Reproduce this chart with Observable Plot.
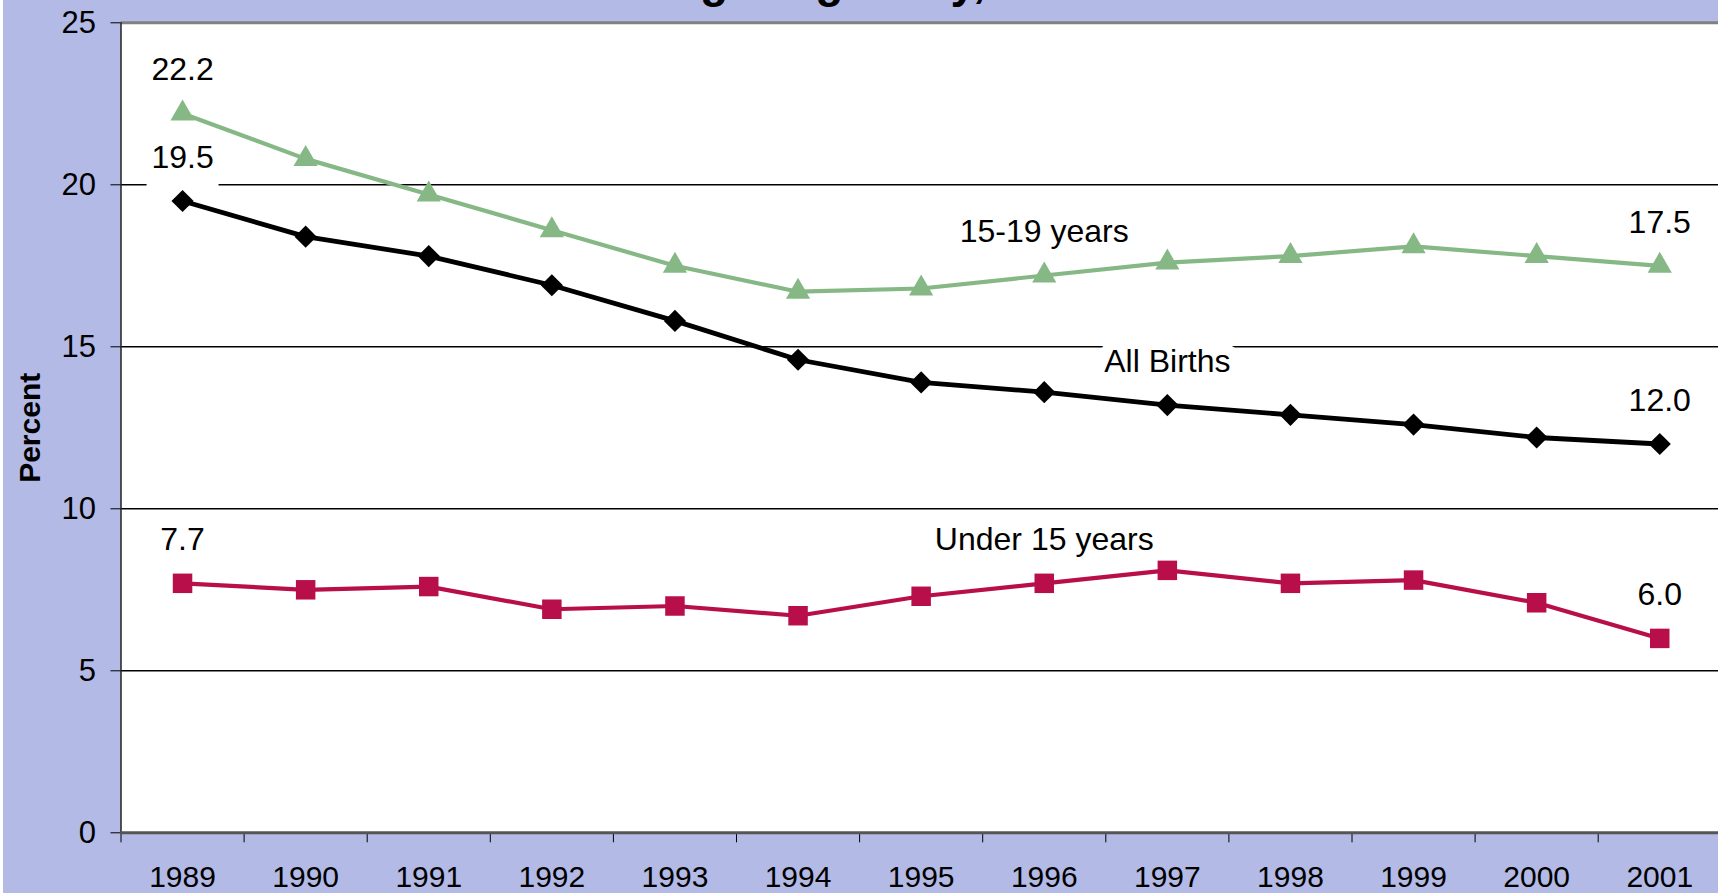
<!DOCTYPE html>
<html>
<head>
<meta charset="utf-8">
<script src="https://cdn.jsdelivr.net/npm/d3@7"></script>
<script src="https://cdn.jsdelivr.net/npm/@observablehq/plot@0.6"></script>
<style>
html, body { margin: 0; padding: 0; background: #fff; }
#chart {
  position: relative; width: 1718px; height: 893px; overflow: hidden;
  background: linear-gradient(to right, #fff 0, #fff 3px, #B3BAE6 3px);
  font-family: "Liberation Sans", Arial, sans-serif;
}
#title {
  position: absolute; left: 580px; top: -42px;
  font-weight: bold; font-size: 46px; line-height: 46px; color: #000; white-space: nowrap;
}
#chart svg { position: absolute; left: 0; top: 0; }
</style>
</head>
<body>
<div id="chart"><div id="title">During Pregnancy, 1989-2001</div></div>
<script>
// ---- data ----
const years = [1989, 1990, 1991, 1992, 1993, 1994, 1995, 1996, 1997, 1998, 1999, 2000, 2001];
const allBirths = [19.5, 18.4, 17.8, 16.9, 15.8, 14.6, 13.9, 13.6, 13.2, 12.9, 12.6, 12.2, 12.0];
const age15to19 = [22.2, 20.8, 19.7, 18.6, 17.5, 16.7, 16.8, 17.2, 17.6, 17.8, 18.1, 17.8, 17.5];
const under15 = [7.7, 7.5, 7.6, 6.9, 7.0, 6.7, 7.3, 7.7, 8.1, 7.7, 7.8, 7.1, 6.0];
const seriesNames = ["All Births", "15-19 years", "Under 15 years"];
const yTicks = [0, 5, 10, 15, 20, 25];
const yAxisLabel = "Percent";

// ---- build table ----
const seriesValues = [allBirths, age15to19, under15];
const rows = [];
seriesNames.forEach((name, si) => {
  years.forEach((yr, i) => rows.push({series: name, year: yr, value: seriesValues[si][i]}));
});

// label placement (layout choices)
const nameYear = {"All Births": 1997, "15-19 years": 1996, "Under 15 years": 1996};
const labelRows = [];
seriesNames.forEach((name, si) => {
  const vals = seriesValues[si];
  labelRows.push({series: name, year: years[0], value: vals[0], text: vals[0].toFixed(1), kind: "value"});
  labelRows.push({series: name, year: years[years.length - 1], value: vals[vals.length - 1], text: vals[vals.length - 1].toFixed(1), kind: "value"});
  const ni = years.indexOf(nameYear[name]);
  labelRows.push({series: name, year: years[ni], value: vals[ni], text: name, kind: "name"});
});

const colors = {"All Births": "#000000", "15-19 years": "#86B886", "Under 15 years": "#B80F4A"};
const boundaries = years.map(y => y - 0.5).concat([years[years.length - 1] + 0.5]);
const gridValues = yTicks.filter(v => v > 0 && v < 25);
const isFirstAll = d => d.series === "All Births" && d.year === years[0];

const labelStyle = {x: "year", y: "value", text: "text", dy: -43.5, fontSize: 32, fill: "#000", stroke: "white", paintOrder: "stroke", strokeLinejoin: "round"};

const chart = Plot.plot({
  width: 1718,
  height: 893,
  marginLeft: 120.5,
  marginRight: 0,
  marginTop: 22.3,
  marginBottom: 60.7,
  style: {background: "transparent", fontSize: "30px", fontFamily: "'Liberation Sans', Arial, sans-serif", color: "#000", overflow: "visible"},
  x: {type: "linear", domain: [1988.5, 2001.5], range: [120.5, 1720.8]},
  y: {domain: [0, 25]},
  marks: [
    Plot.frame({fill: "white", stroke: "none"}),
    Plot.ruleY(gridValues, {stroke: "#000", strokeWidth: 1.4}),
    Plot.ruleY([25], {stroke: "#808080", strokeWidth: 3}),
    Plot.axisY({ticks: yTicks, tickSize: 10, tickPadding: 15, tickFormat: d => String(d), label: null, stroke: "#000", fill: "#000", fontSize: 31}),
    Plot.axisX({ticks: years, tickSize: 0, tickPadding: 33, tickFormat: d => String(d), label: null, fill: "#000", fontSize: 30}),
    Plot.axisX({ticks: boundaries, tickSize: 10, tickFormat: () => "", label: null, stroke: "#000"}),
    Plot.ruleX([1988.5], {stroke: "#222", strokeWidth: 1.5}),
    Plot.ruleY([0], {stroke: "#555", strokeWidth: 3}),
    Plot.text([yAxisLabel], {frameAnchor: "left", textAnchor: "middle", dx: -90.5, rotate: -90, fontWeight: "bold", fontSize: 30, fill: "#000"}),
    // white label box behind the first "All Births" value label
    Plot.dot(labelRows.filter(isFirstAll), {x: "year", y: "value", dy: -30, symbol: "square", r: 40.6, fill: "white", stroke: "none"}),
    Plot.text(labelRows.filter(d => d.kind === "value"), {...labelStyle, strokeWidth: 12}),
    Plot.text(labelRows.filter(d => d.kind === "name"), {...labelStyle, strokeWidth: 22}),
    ...seriesNames.map(name => Plot.line(rows.filter(d => d.series === name), {
      x: "year", y: "value", stroke: colors[name], strokeWidth: name === "All Births" ? 4.8 : 4.2
    })),
    Plot.dot(rows.filter(d => d.series === "All Births"), {x: "year", y: "value", symbol: "diamond2", r: 10, fill: colors["All Births"], stroke: "none"}),
    Plot.dot(rows.filter(d => d.series === "15-19 years"), {x: "year", y: "value", symbol: "triangle", r: 9, fill: colors["15-19 years"], stroke: "none"}),
    Plot.dot(rows.filter(d => d.series === "Under 15 years"), {x: "year", y: "value", symbol: "square", r: 11, fill: colors["Under 15 years"], stroke: "none"})
  ]
});
document.getElementById("chart").appendChild(chart);
</script>
</body>
</html>
